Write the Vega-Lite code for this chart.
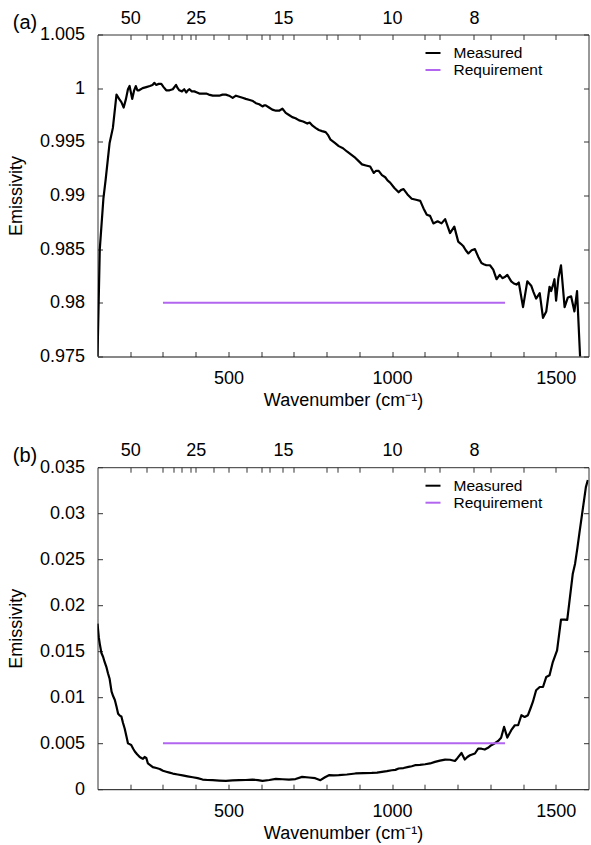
{
  "$schema": "https://vega.github.io/schema/vega-lite/v6.json",
  "padding": {"left": 7.5, "top": 8.5, "right": 0, "bottom": 5},
  "background": "white",
  "config": {
    "view": {"stroke": null},
    "font": "Liberation Sans",
    "axis": {"labelFont": "Liberation Sans", "labelFontSize": 18, "labelColor": "#000000", "titleFont": "Liberation Sans", "titleFontSize": 18, "titleFontWeight": "normal", "titleColor": "#000000", "tickSize": -5, "tickColor": "#333333", "domainColor": "#333333", "grid": false, "labelFlush": false, "labelOverlap": false},
    "title": {"font": "Liberation Sans", "fontSize": 20, "fontWeight": "normal", "color": "#000000"}
  },
  "resolve": {"scale": {"color": "independent"}},
  "spacing": 31.7,
  "datasets": {
    "a_meas": [
      {"wn":100,"e":0.975},{"wn":107,"e":0.985},{"wn":118,"e":0.9897},{"wn":125,"e":0.9915},{"wn":137,"e":0.9949},{"wn":147,"e":0.9963},{"wn":158,"e":0.9994},{"wn":166,"e":0.9990},{"wn":173,"e":0.9987},{"wn":180,"e":0.9982},{"wn":187,"e":0.9990},{"wn":193,"e":0.9999},{"wn":198,"e":1.0002},{"wn":206,"e":0.9990},{"wn":212,"e":0.9998},{"wn":217,"e":1.0002},{"wn":222,"e":0.9998},{"wn":227,"e":0.9998},{"wn":238,"e":1.0000},{"wn":249,"e":1.0001},{"wn":260,"e":1.0002},{"wn":268,"e":1.0003},{"wn":274,"e":1.0005},{"wn":279,"e":1.0003},{"wn":287,"e":1.0004},{"wn":295,"e":1.0004},{"wn":302,"e":1.0001},{"wn":310,"e":0.9998},{"wn":320,"e":0.9998},{"wn":330,"e":0.9999},{"wn":340,"e":1.0003},{"wn":345,"e":1.0000},{"wn":350,"e":0.9998},{"wn":358,"e":0.9997},{"wn":365,"e":0.9999},{"wn":371,"e":0.9996},{"wn":376,"e":0.9998},{"wn":381,"e":0.9999},{"wn":388,"e":0.9997},{"wn":396,"e":0.9997},{"wn":404,"e":0.9996},{"wn":411,"e":0.9995},{"wn":420,"e":0.9995},{"wn":432,"e":0.9995},{"wn":440,"e":0.9994},{"wn":452,"e":0.9993},{"wn":462,"e":0.9993},{"wn":472,"e":0.9993},{"wn":482,"e":0.9994},{"wn":492,"e":0.9994},{"wn":502,"e":0.9993},{"wn":513,"e":0.9991},{"wn":523,"e":0.9993},{"wn":533,"e":0.9992},{"wn":543,"e":0.9991},{"wn":553,"e":0.9990},{"wn":565,"e":0.9989},{"wn":575,"e":0.9988},{"wn":584,"e":0.9986},{"wn":594,"e":0.9985},{"wn":604,"e":0.9983},{"wn":610,"e":0.9984},{"wn":614,"e":0.9984},{"wn":624,"e":0.9982},{"wn":634,"e":0.9980},{"wn":645,"e":0.9979},{"wn":655,"e":0.9979},{"wn":665,"e":0.9981},{"wn":675,"e":0.9977},{"wn":685,"e":0.9975},{"wn":695,"e":0.9973},{"wn":705,"e":0.9972},{"wn":716,"e":0.9970},{"wn":728,"e":0.9969},{"wn":741,"e":0.9967},{"wn":748,"e":0.9968},{"wn":757,"e":0.9965},{"wn":766,"e":0.9963},{"wn":776,"e":0.9961},{"wn":786,"e":0.9960},{"wn":797,"e":0.9959},{"wn":805,"e":0.9956},{"wn":812,"e":0.9952},{"wn":825,"e":0.9949},{"wn":837,"e":0.9946},{"wn":850,"e":0.9944},{"wn":862,"e":0.9941},{"wn":875,"e":0.9938},{"wn":888,"e":0.9935},{"wn":898,"e":0.9932},{"wn":908,"e":0.9929},{"wn":920,"e":0.9928},{"wn":933,"e":0.9927},{"wn":944,"e":0.9921},{"wn":951,"e":0.9923},{"wn":959,"e":0.9923},{"wn":969,"e":0.9919},{"wn":979,"e":0.9917},{"wn":986,"e":0.9914},{"wn":994,"e":0.9912},{"wn":1007,"e":0.9907},{"wn":1020,"e":0.9903},{"wn":1027,"e":0.9905},{"wn":1035,"e":0.9906},{"wn":1047,"e":0.9901},{"wn":1060,"e":0.9897},{"wn":1073,"e":0.9896},{"wn":1086,"e":0.9895},{"wn":1096,"e":0.9888},{"wn":1106,"e":0.9882},{"wn":1116,"e":0.9881},{"wn":1126,"e":0.9874},{"wn":1139,"e":0.9876},{"wn":1151,"e":0.9874},{"wn":1162,"e":0.9878},{"wn":1177,"e":0.9865},{"wn":1190,"e":0.9871},{"wn":1202,"e":0.9857},{"wn":1210,"e":0.9855},{"wn":1217,"e":0.9853},{"wn":1225,"e":0.9849},{"wn":1233,"e":0.9846},{"wn":1243,"e":0.9849},{"wn":1253,"e":0.9850},{"wn":1263,"e":0.9843},{"wn":1273,"e":0.9837},{"wn":1280,"e":0.9836},{"wn":1288,"e":0.9835},{"wn":1299,"e":0.9835},{"wn":1309,"e":0.9831},{"wn":1319,"e":0.9822},{"wn":1329,"e":0.9826},{"wn":1337,"e":0.9823},{"wn":1344,"e":0.9824},{"wn":1352,"e":0.9826},{"wn":1364,"e":0.9820},{"wn":1372,"e":0.9818},{"wn":1380,"e":0.9817},{"wn":1387,"e":0.9819},{"wn":1400,"e":0.9796},{"wn":1413,"e":0.9820},{"wn":1425,"e":0.9816},{"wn":1432,"e":0.9810},{"wn":1440,"e":0.9804},{"wn":1451,"e":0.9809},{"wn":1461,"e":0.9786},{"wn":1471,"e":0.9792},{"wn":1481,"e":0.9815},{"wn":1486,"e":0.9811},{"wn":1491,"e":0.9816},{"wn":1496,"e":0.9822},{"wn":1501,"e":0.9802},{"wn":1508,"e":0.9823},{"wn":1516,"e":0.9835},{"wn":1527,"e":0.9796},{"wn":1537,"e":0.9805},{"wn":1547,"e":0.9806},{"wn":1557,"e":0.9792},{"wn":1565,"e":0.9811},{"wn":1575,"e":0.9745}
    ],
    "a_req": [{"wn":300,"e":0.98},{"wn":1345,"e":0.98}],
    "b_meas": [
      {"wn":100,"e":0.0180},{"wn":104,"e":0.0165},{"wn":107,"e":0.0158},{"wn":112,"e":0.0148},{"wn":117,"e":0.0144},{"wn":122,"e":0.0138},{"wn":127,"e":0.0133},{"wn":132,"e":0.0126},{"wn":137,"e":0.0120},{"wn":143,"e":0.0106},{"wn":148,"e":0.0101},{"wn":153,"e":0.0097},{"wn":158,"e":0.0090},{"wn":163,"e":0.0082},{"wn":168,"e":0.0080},{"wn":173,"e":0.0079},{"wn":178,"e":0.0072},{"wn":183,"e":0.0066},{"wn":188,"e":0.0058},{"wn":193,"e":0.0050},{"wn":198,"e":0.0049},{"wn":203,"e":0.0048},{"wn":209,"e":0.0044},{"wn":214,"e":0.0041},{"wn":221,"e":0.0038},{"wn":229,"e":0.0035},{"wn":234,"e":0.0034},{"wn":239,"e":0.0033},{"wn":244,"e":0.0035},{"wn":249,"e":0.0034},{"wn":254,"e":0.0028},{"wn":262,"e":0.0026},{"wn":269,"e":0.0024},{"wn":280,"e":0.0023},{"wn":290,"e":0.0022},{"wn":300,"e":0.0020},{"wn":310,"e":0.0019},{"wn":320,"e":0.0018},{"wn":330,"e":0.0017},{"wn":345,"e":0.0016},{"wn":360,"e":0.0015},{"wn":375,"e":0.0014},{"wn":391,"e":0.0013},{"wn":406,"e":0.0012},{"wn":421,"e":0.00105},{"wn":436,"e":0.0010},{"wn":452,"e":0.00098},{"wn":472,"e":0.00094},{"wn":492,"e":0.0009},{"wn":512,"e":0.00095},{"wn":533,"e":0.00098},{"wn":553,"e":0.0010},{"wn":573,"e":0.00105},{"wn":590,"e":0.00098},{"wn":604,"e":0.0009},{"wn":625,"e":0.0010},{"wn":645,"e":0.00112},{"wn":665,"e":0.00108},{"wn":685,"e":0.00105},{"wn":705,"e":0.0011},{"wn":725,"e":0.00134},{"wn":746,"e":0.00127},{"wn":765,"e":0.0012},{"wn":781,"e":0.00098},{"wn":795,"e":0.0013},{"wn":807,"e":0.00152},{"wn":822,"e":0.0015},{"wn":837,"e":0.00152},{"wn":862,"e":0.0016},{"wn":888,"e":0.00171},{"wn":913,"e":0.00175},{"wn":938,"e":0.00177},{"wn":954,"e":0.0018},{"wn":969,"e":0.00188},{"wn":984,"e":0.00196},{"wn":999,"e":0.00206},{"wn":1010,"e":0.0021},{"wn":1020,"e":0.00225},{"wn":1035,"e":0.0023},{"wn":1050,"e":0.00242},{"wn":1060,"e":0.0025},{"wn":1070,"e":0.00261},{"wn":1085,"e":0.00265},{"wn":1101,"e":0.00271},{"wn":1116,"e":0.0028},{"wn":1131,"e":0.00297},{"wn":1146,"e":0.0031},{"wn":1162,"e":0.00322},{"wn":1177,"e":0.0032},{"wn":1192,"e":0.00307},{"wn":1200,"e":0.0034},{"wn":1212,"e":0.00394},{"wn":1222,"e":0.00322},{"wn":1230,"e":0.0035},{"wn":1238,"e":0.00369},{"wn":1253,"e":0.00388},{"wn":1263,"e":0.00442},{"wn":1273,"e":0.0044},{"wn":1283,"e":0.00431},{"wn":1293,"e":0.0045},{"wn":1303,"e":0.00478},{"wn":1314,"e":0.005},{"wn":1324,"e":0.00525},{"wn":1333,"e":0.0056},{"wn":1342,"e":0.00677},{"wn":1352,"e":0.00561},{"wn":1364,"e":0.00641},{"wn":1375,"e":0.00695},{"wn":1385,"e":0.00695},{"wn":1395,"e":0.00804},{"wn":1405,"e":0.00785},{"wn":1415,"e":0.00804},{"wn":1423,"e":0.0088},{"wn":1430,"e":0.00948},{"wn":1440,"e":0.01075},{"wn":1451,"e":0.01111},{"wn":1461,"e":0.01111},{"wn":1471,"e":0.0122},{"wn":1481,"e":0.01238},{"wn":1491,"e":0.01382},{"wn":1504,"e":0.01509},{"wn":1516,"e":0.01843},{"wn":1527,"e":0.01843},{"wn":1535,"e":0.0184},{"wn":1541,"e":0.02017},{"wn":1552,"e":0.02342},{"wn":1559,"e":0.02451},{"wn":1566,"e":0.0262},{"wn":1572,"e":0.02777},{"wn":1582,"e":0.0303},{"wn":1592,"e":0.03283},{"wn":1598,"e":0.0336}
    ],
    "b_req": [{"wn":300,"e":0.005},{"wn":1345,"e":0.005}]
  },
  "vconcat": [
    {
      "width": 491, "height": 322,
      "title": {"text": "(a)", "anchor": "start", "frame": "bounds", "offset": -24, "dx": 5},
      "resolve": {"axis": {"x": "independent", "y": "independent"}},
      "layer": [
        {
          "data": {"name": "a_meas"},
          "transform": [{"calculate": "'Measured'", "as": "series"}],
          "mark": {"type": "line", "strokeWidth": 2.2, "clip": true, "strokeJoin": "round"},
          "encoding": {
            "x": {"field": "wn", "type": "quantitative", "scale": {"domain": [100, 1600], "nice": false, "zero": false},
                  "axis": {"orient": "bottom", "values": [200,300,400,500,600,700,800,900,1000,1100,1200,1300,1400,1500], "labelExpr": "datum.value % 500 === 0 ? format(datum.value, 'd') : ''", "labelPadding": 18, "title": "Wavenumber (cm⁻¹)", "titlePadding": 4, "domainColor": "#111111"}},
            "y": {"field": "e", "type": "quantitative", "scale": {"domain": [0.975, 1.005], "nice": false, "zero": false},
                  "axis": {"orient": "left", "values": [0.975,0.98,0.985,0.99,0.995,1,1.005], "labelExpr": "format(datum.value, '~g')", "labelPadding": 18, "title": "Emissivity", "titlePadding": 13.7}},
            "color": {"field": "series", "type": "nominal", "scale": {"domain": ["Measured", "Requirement"], "range": ["#000000", "#b266f0"]},
                      "legend": {"orient": "none", "legendX": 327, "legendY": 10, "title": null, "symbolType": "stroke", "symbolSize": 225, "symbolStrokeWidth": 2, "labelFontSize": 15.5, "labelFont": "Liberation Sans", "labelColor": "#000000", "labelOffset": 12, "rowPadding": -1, "padding": 0}}
          }
        },
        {
          "data": {"name": "a_req"},
          "transform": [{"calculate": "'Requirement'", "as": "series"}],
          "mark": {"type": "line", "strokeWidth": 2, "clip": true},
          "encoding": {
            "x": {"field": "wn", "type": "quantitative",
                  "axis": {"orient": "top", "values": [200,250,300,333.3,357,385,400,455,500,556,600,625,666.7,700,800,833,900,1000,1100,1146,1250,1300,1400,1500], "labelExpr": "datum.value == 200 ? '50' : datum.value == 400 ? '25' : datum.value == 666.7 ? '15' : datum.value == 1000 ? '10' : datum.value == 1250 ? '8' : ''", "labelPadding": 12.5, "title": null}},
            "y": {"field": "e", "type": "quantitative",
                  "axis": {"orient": "right", "values": [0.975,0.98,0.985,0.99,0.995,1,1.005], "labels": false, "title": null}},
            "color": {"field": "series", "type": "nominal", "scale": {"domain": ["Measured", "Requirement"], "range": ["#000000", "#b266f0"]},
                      "legend": {"orient": "none", "legendX": 327, "legendY": 10, "title": null, "symbolType": "stroke", "symbolSize": 225, "symbolStrokeWidth": 2, "labelFontSize": 15.5, "labelFont": "Liberation Sans", "labelColor": "#000000", "labelOffset": 12, "rowPadding": -1, "padding": 0}}
          }
        }
      ]
    },
    {
      "width": 491, "height": 322,
      "title": {"text": "(b)", "anchor": "start", "frame": "bounds", "offset": -24, "dx": 5},
      "resolve": {"axis": {"x": "independent", "y": "independent"}},
      "layer": [
        {
          "data": {"name": "b_meas"},
          "transform": [{"calculate": "'Measured'", "as": "series"}],
          "mark": {"type": "line", "strokeWidth": 2.2, "clip": true, "strokeJoin": "round"},
          "encoding": {
            "x": {"field": "wn", "type": "quantitative", "scale": {"domain": [100, 1600], "nice": false, "zero": false},
                  "axis": {"orient": "bottom", "values": [200,300,400,500,600,700,800,900,1000,1100,1200,1300,1400,1500], "labelExpr": "datum.value % 500 === 0 ? format(datum.value, 'd') : ''", "labelPadding": 18, "title": "Wavenumber (cm⁻¹)", "titlePadding": 4, "domainColor": "#111111"}},
            "y": {"field": "e", "type": "quantitative", "scale": {"domain": [0, 0.035], "nice": false, "zero": false},
                  "axis": {"orient": "left", "values": [0,0.005,0.01,0.015,0.02,0.025,0.03,0.035], "labelExpr": "format(datum.value, '~g')", "labelPadding": 18, "title": "Emissivity", "titlePadding": 13.7}},
            "color": {"field": "series", "type": "nominal", "scale": {"domain": ["Measured", "Requirement"], "range": ["#000000", "#b266f0"]},
                      "legend": {"orient": "none", "legendX": 327, "legendY": 10, "title": null, "symbolType": "stroke", "symbolSize": 225, "symbolStrokeWidth": 2, "labelFontSize": 15.5, "labelFont": "Liberation Sans", "labelColor": "#000000", "labelOffset": 12, "rowPadding": -1, "padding": 0}}
          }
        },
        {
          "data": {"name": "b_req"},
          "transform": [{"calculate": "'Requirement'", "as": "series"}],
          "mark": {"type": "line", "strokeWidth": 2, "clip": true},
          "encoding": {
            "x": {"field": "wn", "type": "quantitative",
                  "axis": {"orient": "top", "values": [200,250,300,333.3,357,385,400,455,500,556,600,625,666.7,700,800,833,900,1000,1100,1146,1250,1300,1400,1500], "labelExpr": "datum.value == 200 ? '50' : datum.value == 400 ? '25' : datum.value == 666.7 ? '15' : datum.value == 1000 ? '10' : datum.value == 1250 ? '8' : ''", "labelPadding": 12.5, "title": null}},
            "y": {"field": "e", "type": "quantitative",
                  "axis": {"orient": "right", "values": [0,0.005,0.01,0.015,0.02,0.025,0.03,0.035], "labels": false, "title": null}},
            "color": {"field": "series", "type": "nominal", "scale": {"domain": ["Measured", "Requirement"], "range": ["#000000", "#b266f0"]},
                      "legend": {"orient": "none", "legendX": 327, "legendY": 10, "title": null, "symbolType": "stroke", "symbolSize": 225, "symbolStrokeWidth": 2, "labelFontSize": 15.5, "labelFont": "Liberation Sans", "labelColor": "#000000", "labelOffset": 12, "rowPadding": -1, "padding": 0}}
          }
        }
      ]
    }
  ]
}
